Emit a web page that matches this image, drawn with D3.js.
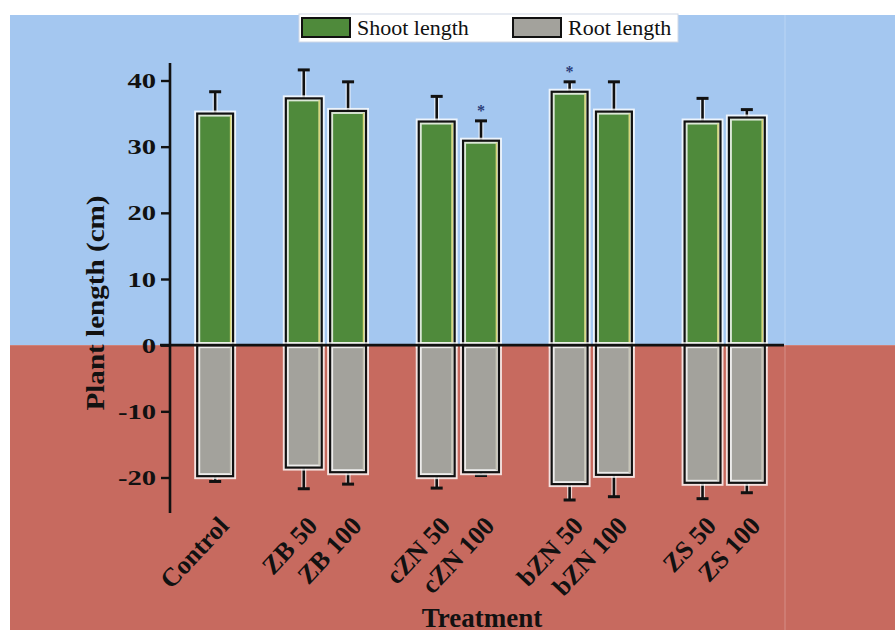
<!DOCTYPE html>
<html>
<head>
<meta charset="utf-8">
<script src="https://cdn.jsdelivr.net/npm/d3@7"></script>
<style>
  html, body { margin: 0; padding: 0; background: #ffffff; }
  svg { display: block; }
</style>
</head>
<body>
<script>
// Treatments, with empty spacer slots separating the groups
const slots = ["Control", "_s1", "ZB 50", "ZB 100", "_s2", "cZN 50", "cZN 100", "_s3",
               "bZN 50", "bZN 100", "_s4", "ZS 50", "ZS 100"];
const treatments = ["Control", "ZB 50", "ZB 100", "cZN 50", "cZN 100", "bZN 50", "bZN 100", "ZS 50", "ZS 100"];
const shootLength = [35.0, 37.3, 35.4, 33.8, 30.9, 38.3, 35.3, 33.8, 34.4];
const shootErr    = [3.3, 4.3, 4.4, 3.8, 3.0, 1.5, 4.5, 3.5, 1.2];
const rootLength  = [-19.8, -18.5, -19.2, -19.8, -19.2, -21.0, -19.6, -20.8, -20.8];
const rootErr     = [0.8, 3.2, 1.8, 1.8, 0.5, 2.4, 3.3, 2.4, 1.5];
const shootSignif = ["", "", "", "", "*", "*", "", "", ""];
const yTicks = [-20, -10, 0, 10, 20, 30, 40];
const legendItems = ["Shoot length", "Root length"];

const W = 895, H = 633;
const svg = d3.select("body").append("svg").attr("width", W).attr("height", H);

const x = d3.scaleBand().domain(slots).range([193, 769]).padding(0);
const y = d3.scaleLinear().domain([-20, 40]).range([477.5, 80.5]);
const barW = x.bandwidth() * 0.81;
const cx = d => x(d) + x.bandwidth() / 2;

const blue = "#a4c7f0", red = "#c76a5f";
const green = "#4f8a3b", grey = "#a3a29c";
const serif = "'Liberation Serif', 'Times New Roman', serif";

// Backdrop: white margin, blue above zero, red below
svg.append("rect").attr("x", 0).attr("y", 0).attr("width", W).attr("height", H).attr("fill", "#ffffff");
svg.append("rect").attr("x", 10).attr("y", 15).attr("width", W - 10).attr("height", y(0) - 15).attr("fill", blue);
svg.append("rect").attr("x", 10).attr("y", y(0)).attr("width", W - 10).attr("height", H - y(0) - 3).attr("fill", red);
svg.append("line").attr("x1", 785).attr("x2", 785).attr("y1", 15).attr("y2", H - 3)
  .attr("stroke", "#ffffff").attr("stroke-opacity", 0.25).attr("stroke-width", 1);

const g = svg.append("g");

// Bars with a thin white halo and a pale inner edge on the right
function drawBars(vals, fill) {
  const sel = g.append("g").selectAll("g").data(treatments).join("g");
  const top = (d, i) => Math.min(y(vals[i]), y(0));
  const hgt = (d, i) => Math.abs(y(vals[i]) - y(0));
  sel.append("rect")
    .attr("x", d => cx(d) - barW / 2).attr("y", top)
    .attr("width", barW).attr("height", hgt)
    .attr("fill", fill)
    .attr("stroke", "#ffffff").attr("stroke-width", 6).attr("stroke-opacity", 0.8);
  sel.append("line")
    .attr("x1", d => cx(d) + barW / 2 - 2.5).attr("x2", d => cx(d) + barW / 2 - 2.5)
    .attr("y1", (d, i) => top(d, i) + 2)
    .attr("y2", (d, i) => top(d, i) + hgt(d, i) - 2)
    .attr("stroke", fill === green ? "#d6d67a" : "#c8c6b8").attr("stroke-width", 1.5);
  sel.append("rect")
    .attr("x", d => cx(d) - barW / 2).attr("y", top)
    .attr("width", barW).attr("height", hgt)
    .attr("fill", "none").attr("stroke", "#111").attr("stroke-width", 2.2);
}

// One-sided error bars
function drawErr(vals, errs, dir) {
  const sel = g.append("g").selectAll("g").data(treatments).join("g");
  const end = (d, i) => y(vals[i] + dir * errs[i]);
  sel.append("line")
    .attr("x1", d => cx(d)).attr("x2", d => cx(d))
    .attr("y1", (d, i) => y(vals[i])).attr("y2", end)
    .attr("stroke", "#ffffff").attr("stroke-width", 5).attr("stroke-opacity", 0.7);
  sel.append("line")
    .attr("x1", d => cx(d)).attr("x2", d => cx(d))
    .attr("y1", (d, i) => y(vals[i])).attr("y2", end)
    .attr("stroke", "#111").attr("stroke-width", 2.6);
  sel.append("line")
    .attr("x1", d => cx(d) - 6).attr("x2", d => cx(d) + 6)
    .attr("y1", end).attr("y2", end)
    .attr("stroke", "#111").attr("stroke-width", 3);
}

drawErr(shootLength, shootErr, 1);
drawErr(rootLength, rootErr, -1);
drawBars(shootLength, green);
drawBars(rootLength, grey);

// Significance marks
g.append("g").selectAll("text").data(treatments).join("text")
  .attr("x", d => cx(d))
  .attr("y", (d, i) => y(shootLength[i] + shootErr[i]) - 5)
  .attr("text-anchor", "middle")
  .attr("font-family", serif).attr("font-size", 16).attr("font-weight", "bold")
  .attr("fill", "#2c3f7a")
  .text((d, i) => shootSignif[i]);

// Zero line
svg.append("line").attr("x1", 160).attr("x2", 784).attr("y1", y(0)).attr("y2", y(0))
  .attr("stroke", "#111").attr("stroke-width", 2.6);

// Y axis
const yAxis = svg.append("g").attr("transform", "translate(170,0)")
  .call(d3.axisLeft(y).tickValues(yTicks).tickSize(9).tickPadding(0).tickFormat(d => String(d)));
yAxis.select(".domain").remove();
yAxis.append("line").attr("x1", 0).attr("x2", 0).attr("y1", 63).attr("y2", 513)
  .attr("stroke", "#111").attr("stroke-width", 2.6);
yAxis.selectAll(".tick line").attr("stroke", "#111").attr("stroke-width", 2.4);
yAxis.selectAll(".tick text")
  .attr("x", null)
  .attr("transform", "translate(-14,0) scale(1.3,1)")
  .attr("font-family", serif).attr("font-size", 22).attr("font-weight", "bold").attr("fill", "#111");

// Rotated treatment labels
svg.append("g").selectAll("text").data(treatments).join("text")
  .attr("transform", d => `translate(${cx(d) + 15},${527}) rotate(-47)`)
  .attr("text-anchor", "end")
  .attr("font-family", serif).attr("font-size", 26).attr("font-weight", "bold").attr("fill", "#111")
  .text(d => d);

// Axis titles
svg.append("text")
  .attr("transform", `translate(104,303) rotate(-90)`)
  .attr("text-anchor", "middle")
  .attr("textLength", 215).attr("lengthAdjust", "spacingAndGlyphs")
  .attr("font-family", serif).attr("font-size", 26).attr("font-weight", "bold").attr("fill", "#111")
  .text("Plant length (cm)");
svg.append("text")
  .attr("x", 482).attr("y", 627)
  .attr("text-anchor", "middle")
  .attr("font-family", serif).attr("font-size", 27).attr("font-weight", "bold").attr("fill", "#111")
  .text("Treatment");

// Legend
const leg = svg.append("g");
leg.append("rect").attr("x", 299).attr("y", 14).attr("width", 379).attr("height", 28)
  .attr("fill", "#ffffff").attr("stroke", "#cfd8e6").attr("stroke-width", 1);
const legX = [302, 513];
const legFill = [green, grey];
legendItems.forEach((t, i) => {
  leg.append("rect").attr("x", legX[i]).attr("y", 18).attr("width", 48).attr("height", 19)
    .attr("fill", legFill[i]).attr("stroke", "#111").attr("stroke-width", 2);
  leg.append("text").attr("x", legX[i] + 55).attr("y", 35)
    .attr("font-family", serif).attr("font-size", 22).attr("fill", "#111")
    .text(t);
});
</script>
</body>
</html>
